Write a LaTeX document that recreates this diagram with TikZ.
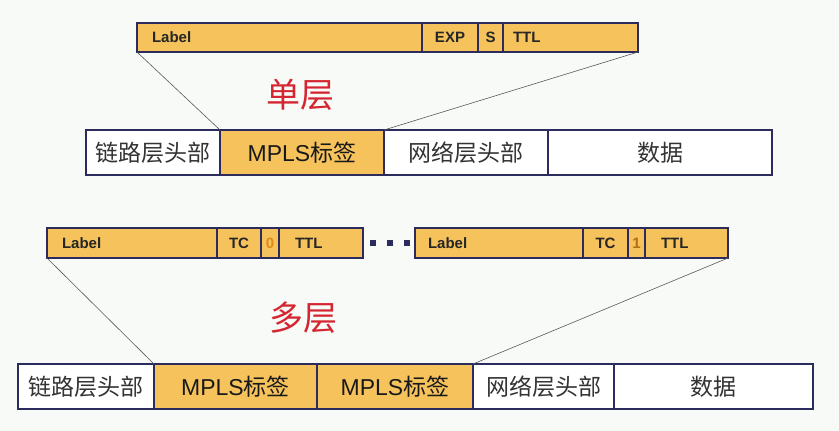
\documentclass[tikz,border=0pt]{standalone}
\usepackage{fontspec}
\setmainfont{Liberation Sans}
\newfontfamily\cjk{Noto Sans CJK SC}
\usetikzlibrary{positioning}

\definecolor{mplsorange}{HTML}{F5C25C}
\definecolor{boxline}{HTML}{2C2B5E}
\definecolor{titlered}{HTML}{D42630}
\definecolor{bitorange}{HTML}{E08A14}
\definecolor{pagebg}{HTML}{F8FAF8}

\begin{document}
\begin{tikzpicture}[x=1pt, y=-1pt,
      every node/.append style={inner sep=0pt, outer sep=0pt},
      hdr/.style={draw=boxline, line width=1.5pt, fill=mplsorange, minimum height=29pt,
                  font=\bfseries\fontsize{15}{15}\selectfont, text=black!85},
      pkt/.style={draw=boxline, line width=1.5pt, fill=white, minimum height=45pt,
                  font=\cjk\fontsize{23}{23}\selectfont, text=black!80},
      lbl/.style={pkt, fill=mplsorange, text=black!90},
      bit/.style={hdr, text=bitorange},
      dot/.style={fill=boxline, minimum size=6pt},
      conn/.style={draw=black!65, line width=0.6pt},
      title/.style={font=\cjk\fontsize{34}{34}\selectfont, text=titlered}]

     \fill[pagebg] (0,0) rectangle (839,431);
     \useasboundingbox (0,0) rectangle (839,431);

     % single label header
     \node [hdr, anchor=north west, text width=255pt, align=left, inner xsep=15pt] (lab0) at (137,23) {Label};
     \node [hdr, right=0pt of lab0, minimum width=56pt] (exp0) {EXP};
     \node [hdr, right=0pt of exp0, minimum width=25pt] (s0)   {S};
     \node [hdr, right=0pt of s0, text width=115pt, align=left, inner xsep=10pt] (ttl0) {TTL};

     \node [title] (single) at (300,95) {单层};

     % single label packet
     \node [pkt, anchor=north west, minimum width=134pt] (link1) at (86,130) {链路层头部};
     \node [lbl, right=0pt of link1, minimum width=164pt] (mpls1) {{\rmfamily MPLS}标签};
     \node [pkt, right=0pt of mpls1, minimum width=164pt] (net1)  {网络层头部};
     \node [pkt, right=0pt of net1, minimum width=224pt]  (data1) {数据};

     \path[conn] (lab0.south west) -- (mpls1.north west)
                 (ttl0.south east) -- (mpls1.north east);

     % label stack
     \node [hdr, anchor=north west, minimum height=30pt, text width=140pt, align=left, inner xsep=15pt] (lab1) at (47,228) {Label};
     \node [hdr, right=0pt of lab1, minimum height=30pt, minimum width=44pt] (tc1) {TC};
     \node [bit, right=0pt of tc1, minimum height=30pt, minimum width=18pt]  (bos1) {0};
     \node [hdr, right=0pt of bos1, minimum height=30pt, text width=52pt, align=left, inner xsep=16pt] (ttl1) {TTL};

     \node [dot] (d1) at (373,243) {};
     \node [dot] (d2) at (390,243) {};
     \node [dot] (d3) at (407,243) {};

     \node [hdr, anchor=north west, minimum height=30pt, text width=142pt, align=left, inner xsep=13pt] (lab2) at (415,228) {Label};
     \node [hdr, right=0pt of lab2, minimum height=30pt, minimum width=45pt] (tc2) {TC};
     \node [bit, right=0pt of tc2, minimum height=30pt, minimum width=17pt, text=bitorange!80!black]  (bos2) {1};
     \node [hdr, right=0pt of bos2, minimum height=30pt, text width=51pt, align=left, inner xsep=16pt] (ttl2) {TTL};

     \node [title] (multi) at (303,318) {多层};

     % multi label packet
     \node [pkt, anchor=north west, minimum width=136pt] (link2) at (18,364) {链路层头部};
     \node [lbl, right=0pt of link2, minimum width=163pt] (mplsa) {{\rmfamily MPLS}标签};
     \node [lbl, right=0pt of mplsa, minimum width=156pt] (mplsb) {{\rmfamily MPLS}标签};
     \node [pkt, right=0pt of mplsb, minimum width=141pt] (net2)  {网络层头部};
     \node [pkt, right=0pt of net2, minimum width=199pt]  (data2) {数据};

     \path[conn] (lab1.south west) -- (mplsa.north west)
                 (ttl2.south east) -- (mplsb.north east);
\end{tikzpicture}
\end{document}
